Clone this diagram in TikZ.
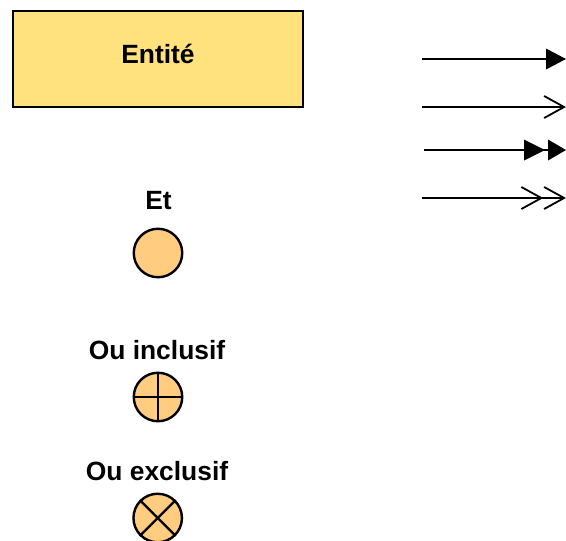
\documentclass[tikz,border=0pt]{standalone}
\usepackage{fontspec}
\setmainfont{Liberation Sans}
\usetikzlibrary{arrows.meta}
\definecolor{entitefill}{HTML}{FFE17D}
\definecolor{opfill}{HTML}{FFCC80}
\tikzset{
  lbl/.style={font=\bfseries\fontsize{26.4}{30}\selectfont, anchor=base, inner sep=0pt},
  entitebox/.style={draw=black, line width=2.4pt, fill=entitefill, minimum width=290pt, minimum height=96pt, inner sep=0pt, anchor=north west},
  opnode/.style={circle, draw=black, line width=2.4pt, fill=opfill, minimum size=48.5pt, inner sep=0pt},
  opline/.style={line width=2.2pt, black},
  link/.style={line width=1.8pt, black},
  solidtip/.style={link, -{Triangle[length=20pt,width=21pt,line width=0pt]}},
  opentip/.style={link, -{Straight Barb[length=20pt,width=22pt,line width=1.8pt]}},
  dblsolid/.style={link, -{Triangle[length=21pt,width=21pt,line width=0pt,sep=3pt]Triangle[length=18pt,width=21pt,line width=0pt]}},
  dblopen/.style={link, -{Straight Barb[length=20pt,width=22pt,line width=1.8pt,sep=0pt]Straight Barb[length=20pt,width=22pt,line width=1.8pt]}}
}
\begin{document}
\begin{tikzpicture}[x=1pt,y=-1pt]
\useasboundingbox (0,0) rectangle (566,541);
\node[entitebox] (entite) at (11.8,9.7) {};
\node[lbl] (entitelbl) at (158,63) {Entité};
\node[lbl] (etlbl) at (158.5,209) {Et};
\node[opnode] (et) at (158,253) {};
\node[lbl] (inclbl) at (157,359) {Ou inclusif};
\node[opnode] (inc) at (158,397) {};
\draw[opline] (inc.north) -- (inc.south);
\draw[opline] (inc.west) -- (inc.east);
\node[lbl] (exclbl) at (157,480) {Ou exclusif};
\node[opnode] (exc) at (157.7,518) {};
\draw[opline] (exc.45) -- (exc.225);
\draw[opline] (exc.135) -- (exc.315);
\coordinate (a1) at (422,59);
\coordinate (b1) at (566,59);
\coordinate (a2) at (422,107);
\coordinate (b2) at (566,107);
\coordinate (a3) at (424,150);
\coordinate (b3) at (566,150);
\coordinate (a4) at (422,198);
\coordinate (b4) at (566,198);
\draw[solidtip] (a1) -- (b1);
\draw[opentip] (a2) -- (b2);
\draw[dblsolid] (a3) -- (b3);
\draw[dblopen] (a4) -- (b4);
\end{tikzpicture}
\end{document}
